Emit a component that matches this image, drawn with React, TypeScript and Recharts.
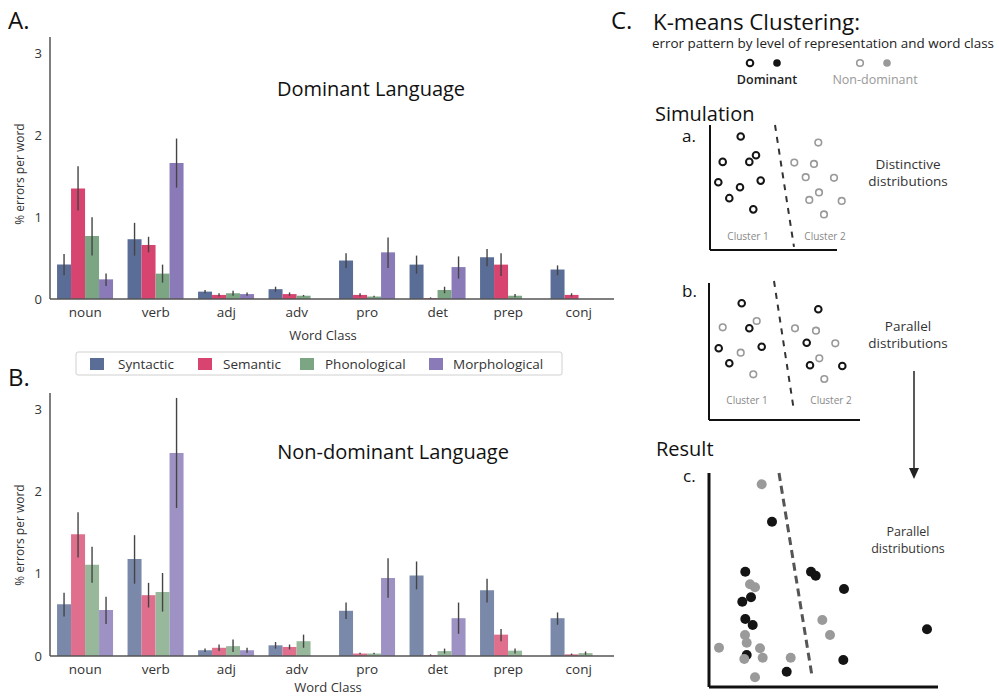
import React from 'react';
import {
  BarChart, Bar, XAxis, YAxis, ErrorBar, ScatterChart, Scatter, ReferenceLine,
} from 'recharts';

// ---------- Bar chart data ----------
const wordClasses = ['noun', 'verb', 'adj', 'adv', 'pro', 'det', 'prep', 'conj'];
const yTicks = [0, 1, 2, 3];

// Dominant language
const domSyn = [0.42, 0.73, 0.09, 0.12, 0.47, 0.42, 0.51, 0.36];
const domSynLo = [0.29, 0.53, 0.07, 0.09, 0.38, 0.31, 0.40, 0.29];
const domSynHi = [0.55, 0.93, 0.11, 0.15, 0.56, 0.53, 0.61, 0.41];
const domSem = [1.35, 0.66, 0.05, 0.06, 0.05, 0.01, 0.42, 0.05];
const domSemLo = [1.08, 0.57, 0.03, 0.04, 0.03, 0.0, 0.28, 0.03];
const domSemHi = [1.62, 0.76, 0.07, 0.08, 0.07, 0.02, 0.56, 0.07];
const domPho = [0.77, 0.31, 0.07, 0.04, 0.03, 0.11, 0.04, 0];
const domPhoLo = [0.53, 0.2, 0.04, 0.03, 0.02, 0.07, 0.02, 0];
const domPhoHi = [1.0, 0.42, 0.1, 0.05, 0.04, 0.15, 0.06, 0];
const domMor = [0.24, 1.66, 0.06, 0, 0.57, 0.39, 0, 0];
const domMorLo = [0.16, 1.36, 0.04, 0, 0.38, 0.25, 0, 0];
const domMorHi = [0.31, 1.96, 0.08, 0, 0.75, 0.52, 0, 0];

// Non-dominant language
const ndSyn = [0.63, 1.18, 0.07, 0.13, 0.55, 0.98, 0.8, 0.46];
const ndSynLo = [0.48, 0.88, 0.05, 0.09, 0.45, 0.81, 0.65, 0.38];
const ndSynHi = [0.77, 1.47, 0.09, 0.17, 0.65, 1.15, 0.94, 0.53];
const ndSem = [1.48, 0.74, 0.1, 0.11, 0.03, 0.01, 0.26, 0.02];
const ndSemLo = [1.2, 0.59, 0.06, 0.08, 0.02, 0.0, 0.18, 0.01];
const ndSemHi = [1.75, 0.89, 0.14, 0.14, 0.04, 0.02, 0.33, 0.03];
const ndPho = [1.11, 0.78, 0.12, 0.18, 0.03, 0.06, 0.065, 0.035];
const ndPhoLo = [0.89, 0.54, 0.05, 0.1, 0.02, 0.03, 0.03, 0.015];
const ndPhoHi = [1.33, 1.01, 0.2, 0.26, 0.04, 0.09, 0.09, 0.055];
const ndMor = [0.56, 2.47, 0.07, 0, 0.95, 0.46, 0, 0];
const ndMorLo = [0.39, 1.8, 0.04, 0, 0.71, 0.27, 0, 0];
const ndMorHi = [0.72, 3.14, 0.1, 0, 1.19, 0.65, 0, 0];

const seriesNames = ['Syntactic', 'Semantic', 'Phonological', 'Morphological'];
const colorsA = ['#5a6d96', '#d6446f', '#7ca583', '#8a7bb8'];
const colorsB = ['#7a89aa', '#e06f8d', '#98b89c', '#9d92c3'];

// ---------- Scatter data (panel units) ----------
const aDominant = [
  { x: 3.07, y: 11.17 }, { x: 4.6, y: 9.33 }, { x: 3.93, y: 8.67 }, { x: 1.27, y: 8.67 },
  { x: 0.83, y: 6.67 }, { x: 3.0, y: 6.17 }, { x: 5.07, y: 6.83 }, { x: 1.93, y: 5.1 },
  { x: 4.33, y: 4.0 },
];
const aNonDominant = [
  { x: 10.83, y: 10.57 }, { x: 8.43, y: 8.6 }, { x: 10.4, y: 8.47 }, { x: 9.57, y: 7.17 },
  { x: 12.4, y: 7.1 }, { x: 10.9, y: 5.67 }, { x: 9.93, y: 4.93 }, { x: 13.17, y: 4.83 },
  { x: 11.4, y: 3.5 },
];
const bDominant = [
  { x: 3.27, y: 11.67 }, { x: 4.03, y: 9.17 }, { x: 0.97, y: 7.17 }, { x: 5.27, y: 7.33 },
  { x: 2.03, y: 5.67 }, { x: 10.93, y: 11.07 }, { x: 9.77, y: 7.73 }, { x: 10.1, y: 5.47 },
  { x: 13.33, y: 5.4 },
];
const bNonDominant = [
  { x: 1.37, y: 9.27 }, { x: 4.77, y: 9.9 }, { x: 3.17, y: 6.73 }, { x: 4.43, y: 4.57 },
  { x: 8.6, y: 9.17 }, { x: 10.7, y: 8.93 }, { x: 12.63, y: 7.67 }, { x: 11.03, y: 6.17 },
  { x: 11.53, y: 4.1 },
];
const cDominant = [
  { x: 6.3, y: 16.53 }, { x: 3.63, y: 11.53 }, { x: 10.2, y: 11.53 }, { x: 10.67, y: 11.13 },
  { x: 13.5, y: 9.8 }, { x: 4.2, y: 8.97 }, { x: 3.33, y: 8.53 }, { x: 3.63, y: 6.8 },
  { x: 4.37, y: 6.2 }, { x: 21.8, y: 5.77 }, { x: 3.77, y: 3.2 }, { x: 13.43, y: 2.7 },
  { x: 7.77, y: 1.53 },
];
const cNonDominant = [
  { x: 5.27, y: 20.27 }, { x: 4.1, y: 10.27 }, { x: 4.6, y: 9.97 }, { x: 11.33, y: 6.7 },
  { x: 3.6, y: 5.2 }, { x: 3.77, y: 4.43 }, { x: 12.1, y: 5.2 }, { x: 1.0, y: 3.93 },
  { x: 5.1, y: 3.87 }, { x: 3.53, y: 2.8 }, { x: 5.37, y: 2.93 }, { x: 8.17, y: 2.93 },
  { x: 4.6, y: 0.97 },
];
const aSplit = [{ x: 6.5, y: 12.3 }, { x: 8.4, y: 0.3 }];
const bSplit = [{ x: 6.5, y: 13.9 }, { x: 8.5, y: 0.9 }];
const cSplit = [{ x: 7.0, y: 21.4 }, { x: 10.3, y: 1.1 }];

const FONT = '"Open Sans", "Noto Sans", sans-serif';

function buildRows(vals: number[][], lo: number[][], hi: number[][]) {
  return wordClasses.map((cls, i) => {
    const row: any = { cls };
    vals.forEach((arr, s) => {
      row['v' + s] = arr[i];
      row['e' + s] = [Math.max(0, arr[i] - lo[s][i]), Math.max(0, hi[s][i] - arr[i])];
    });
    return row;
  });
}

const rowsA = buildRows(
  [domSyn, domSem, domPho, domMor],
  [domSynLo, domSemLo, domPhoLo, domMorLo],
  [domSynHi, domSemHi, domPhoHi, domMorHi],
);
const rowsB = buildRows(
  [ndSyn, ndSem, ndPho, ndMor],
  [ndSynLo, ndSemLo, ndPhoLo, ndMorLo],
  [ndSynHi, ndSemHi, ndPhoHi, ndMorHi],
);

function ErrBarChart({ rows, colors, top, marginTop, marginBottom }: any) {
  return (
    <div style={{ position: 'absolute', left: 0, top, width: 640, height: 320 }}>
      <BarChart
        width={640}
        height={320}
        data={rows}
        margin={{ top: marginTop, right: 26, bottom: marginBottom, left: 0 }}
        barCategoryGap="10%"
        barGap={0}
      >
        <XAxis
          dataKey="cls"
          height={20}
          tickLine={false}
          axisLine={{ stroke: '#555', strokeWidth: 1.5 }}
          tick={{ fontSize: 13.5, fill: '#333', fontFamily: FONT }}
          interval={0}
        />
        <YAxis
          width={50}
          domain={[0, 3.2]}
          ticks={yTicks}
          tickLine={false}
          axisLine={{ stroke: '#555', strokeWidth: 1.5 }}
          tick={{ fontSize: 13, fill: '#333', fontFamily: FONT }}
        />
        {seriesNames.map((name, s) => (
          <Bar key={name} dataKey={'v' + s} name={name} fill={colors[s]} isAnimationActive={false}>
            <ErrorBar dataKey={'e' + s} width={0} stroke="#444" strokeWidth={1.4} direction="y" />
          </Bar>
        ))}
      </BarChart>
    </div>
  );
}

const openDot = (color: string, w: number) => (p: any) => (
  <circle cx={p.cx} cy={p.cy} r={3.3} fill="#fff" stroke={color} strokeWidth={w} />
);
const filledDot = (color: string) => (p: any) => (
  <circle cx={p.cx} cy={p.cy} r={5} fill={color} stroke="none" />
);

function Panel({ left, top, width, height, xMax, yMax, axisX, axisY, dom, nonDom, split, filled, axisW, dashW, dashColor, dash }: any) {
  return (
    <div style={{ position: 'absolute', left, top, width, height }}>
      <ScatterChart width={width} height={height} margin={{ top: 10, right: 10, bottom: 10, left: 10 }}>
        <XAxis type="number" dataKey="x" domain={[0, xMax]} hide />
        <YAxis type="number" dataKey="y" domain={[0, yMax]} hide />
        <ReferenceLine segment={[{ x: 0, y: 0 }, { x: 0, y: axisY }]} stroke="#111" strokeWidth={axisW} ifOverflow="visible" />
        <ReferenceLine segment={[{ x: 0, y: 0 }, { x: axisX, y: 0 }]} stroke="#111" strokeWidth={axisW} ifOverflow="visible" />
        <ReferenceLine segment={split} stroke={dashColor} strokeWidth={dashW} strokeDasharray={dash} ifOverflow="visible" />
        {filled ? (
          <Scatter data={dom} shape={filledDot('#141414')} isAnimationActive={false} />
        ) : (
          <Scatter data={dom} shape={openDot('#141414', 2)} isAnimationActive={false} />
        )}
        {filled ? (
          <Scatter data={nonDom} shape={filledDot('#9a9a9a')} isAnimationActive={false} />
        ) : (
          <Scatter data={nonDom} shape={openDot('#999', 1.6)} isAnimationActive={false} />
        )}
      </ScatterChart>
    </div>
  );
}

export default function App() {
  return (
    <div style={{ position: 'absolute', left: 0, top: 0, width: 999, height: 697, background: '#fff', fontFamily: FONT, overflow: 'hidden' }}>
      <ErrBarChart rows={rowsA} colors={colorsA} top={0} marginTop={37} marginBottom={1} />
      <ErrBarChart rows={rowsB} colors={colorsB} top={360} marginTop={33} marginBottom={4} />

      {/* Panel a: plot origin (710,250) */}
      <Panel left={700} top={115} width={160} height={145} xMax={14} yMax={12.3} axisX={12.7} axisY={12.3}
        dom={aDominant} nonDom={aNonDominant} split={aSplit} filled={false} axisW={2} dashW={2} dashColor="#333" dash="6 6" />
      {/* Panel b: plot origin (709,420) */}
      <Panel left={699} top={271} width={175} height={159} xMax={15.5} yMax={13.9} axisX={15.1} axisY={13.7}
        dom={bDominant} nonDom={bNonDominant} split={bSplit} filled={false} axisW={2} dashW={2} dashColor="#333" dash="6 6" />
      {/* Panel c: plot origin (709,687) */}
      <Panel left={699} top={463} width={250} height={234} xMax={23} yMax={21.4} axisX={22.9} axisY={21.4}
        dom={cDominant} nonDom={cNonDominant} split={cSplit} filled={true} axisW={3} dashW={3} dashColor="#555" dash="8 5" />

      <svg width={999} height={697} style={{ position: 'absolute', left: 0, top: 0, pointerEvents: 'none' }} fontFamily={FONT}>
        {/* Panel letters */}
        <text x={8} y={29} fontSize={24} fill="#111">A.</text>
        <text x={8} y={386} fontSize={24} fill="#111">B.</text>
        <text x={611} y={29} fontSize={24} fill="#111">C.</text>

        {/* Bar chart titles */}
        <text x={371} y={96} fontSize={20} fill="#111" textAnchor="middle">Dominant Language</text>
        <text x={393} y={459} fontSize={20} fill="#111" textAnchor="middle">Non-dominant Language</text>

        {/* Y labels */}
        <text transform="translate(24,174) rotate(-90)" fontSize={12} fill="#333" textAnchor="middle">% errors per word</text>
        <text transform="translate(24,535) rotate(-90)" fontSize={12} fill="#333" textAnchor="middle">% errors per word</text>

        {/* X labels */}
        <text x={323} y={340} fontSize={13} fill="#333" textAnchor="middle">Word Class</text>
        <text x={328} y={692} fontSize={13} fill="#333" textAnchor="middle">Word Class</text>

        {/* Legend */}
        <rect x={76} y={352} width={486} height={23} fill="#fff" stroke="#d0d0d0" strokeWidth={1} rx={2} />
        {seriesNames.map((name, s) => {
          const sx = [90, 198, 300, 429][s];
          const tx = [118, 223, 325, 453][s];
          return (
            <g key={name}>
              <rect x={sx} y={358} width={14} height={12} fill={colorsA[s]} />
              <text x={tx} y={369} fontSize={13.5} fill="#333">{name}</text>
            </g>
          );
        })}

        {/* Right side texts */}
        <text x={653} y={30} fontSize={21} fill="#111" textLength={207} lengthAdjust="spacingAndGlyphs">K-means Clustering:</text>
        <text x={652} y={48} fontSize={13} fill="#222" textLength={342} lengthAdjust="spacingAndGlyphs">error pattern by level of representation and word class</text>
        <circle cx={750} cy={63} r={3.3} fill="#fff" stroke="#141414" strokeWidth={2} />
        <circle cx={777} cy={63} r={3.8} fill="#141414" />
        <circle cx={860} cy={63} r={3.3} fill="#fff" stroke="#999" strokeWidth={1.6} />
        <circle cx={887} cy={63} r={3.8} fill="#999" />
        <text x={767} y={84} fontSize={12.5} fill="#222" fontWeight={600} textAnchor="middle">Dominant</text>
        <text x={875} y={84} fontSize={12.5} fill="#999" textAnchor="middle">Non-dominant</text>

        <text x={655} y={121} fontSize={20} fill="#111">Simulation</text>
        <text x={682} y={142} fontSize={17} fill="#111">a.</text>
        <text x={748} y={240} fontSize={10} fill="#888" textAnchor="middle">Cluster 1</text>
        <text x={825} y={240} fontSize={10} fill="#888" textAnchor="middle">Cluster 2</text>
        <text x={908} y={169} fontSize={13.5} fill="#333" textAnchor="middle">Distinctive</text>
        <text x={908} y={186} fontSize={13.5} fill="#333" textAnchor="middle">distributions</text>

        <text x={682} y={297} fontSize={17} fill="#111">b.</text>
        <text x={747} y={404} fontSize={10} fill="#888" textAnchor="middle">Cluster 1</text>
        <text x={831} y={404} fontSize={10} fill="#888" textAnchor="middle">Cluster 2</text>
        <text x={908} y={331} fontSize={13.5} fill="#333" textAnchor="middle">Parallel</text>
        <text x={908} y={348} fontSize={13.5} fill="#333" textAnchor="middle">distributions</text>

        <line x1={914} y1={371} x2={914} y2={472} stroke="#222" strokeWidth={1.5} />
        <polygon points="909,468 919,468 914,479" fill="#222" />

        <text x={656} y={456} fontSize={20} fill="#111">Result</text>
        <text x={683} y={482} fontSize={17} fill="#111">c.</text>
        <text x={908} y={536} fontSize={12.5} fill="#333" textAnchor="middle">Parallel</text>
        <text x={908} y={553} fontSize={12.5} fill="#333" textAnchor="middle">distributions</text>
      </svg>
    </div>
  );
}
